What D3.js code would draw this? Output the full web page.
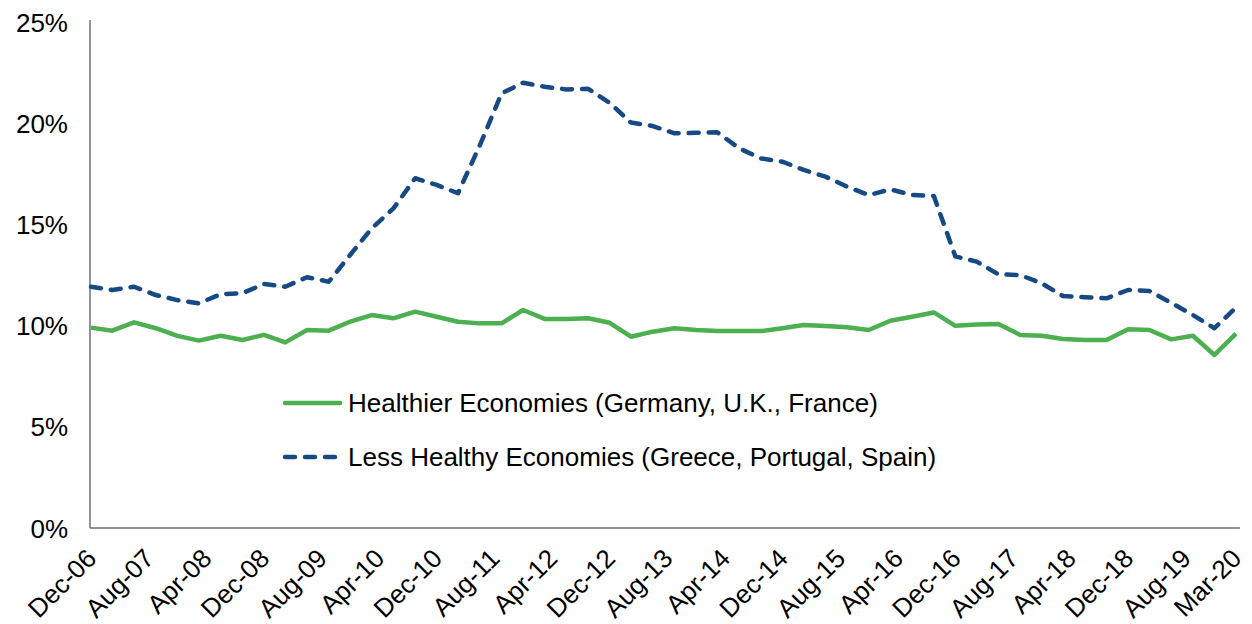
<!DOCTYPE html>
<html>
<head>
<meta charset="utf-8">
<script src="https://cdn.jsdelivr.net/npm/d3@7"></script>
<style>
    body { margin: 0; background: #fff; }
    #chart text { font-family: Arial, "Liberation Sans", sans-serif; fill: #000; }
</style>
</head>
<body>
<div id="chart"></div>
<script>
// quarterly dates, Dec-06 .. Mar-20
var quarters = ["Dec-06", "Mar-07", "Jun-07", "Sep-07", "Dec-07", "Mar-08", "Jun-08", "Sep-08",
    "Dec-08", "Mar-09", "Jun-09", "Sep-09", "Dec-09", "Mar-10", "Jun-10", "Sep-10",
    "Dec-10", "Mar-11", "Jun-11", "Sep-11", "Dec-11", "Mar-12", "Jun-12", "Sep-12",
    "Dec-12", "Mar-13", "Jun-13", "Sep-13", "Dec-13", "Mar-14", "Jun-14", "Sep-14",
    "Dec-14", "Mar-15", "Jun-15", "Sep-15", "Dec-15", "Mar-16", "Jun-16", "Sep-16",
    "Dec-16", "Mar-17", "Jun-17", "Sep-17", "Dec-17", "Mar-18", "Jun-18", "Sep-18",
    "Dec-18", "Mar-19", "Jun-19", "Sep-19", "Dec-19", "Mar-20"];

var healthier = [9.90, 9.75, 10.16, 9.87, 9.49, 9.26, 9.50, 9.29,
    9.54, 9.17, 9.78, 9.75, 10.20, 10.52, 10.36, 10.69,
    10.44, 10.19, 10.11, 10.11, 10.77, 10.33, 10.33, 10.36,
    10.14, 9.45, 9.70, 9.87, 9.78, 9.73, 9.73, 9.73,
    9.87, 10.03, 9.98, 9.92, 9.78, 10.24, 10.44, 10.65,
    9.99, 10.05, 10.08, 9.54, 9.50, 9.34, 9.29, 9.29,
    9.82, 9.78, 9.32, 9.50, 8.55, 9.60];

var lessHealthy = [11.92, 11.76, 11.92, 11.51, 11.26, 11.10, 11.55, 11.60,
    12.06, 11.92, 12.39, 12.17, 13.50, 14.80, 15.79, 17.28,
    16.95, 16.54, 18.90, 21.47, 22.00, 21.80, 21.67, 21.70,
    21.00, 20.03, 19.86, 19.50, 19.53, 19.55, 18.76, 18.26,
    18.10, 17.69, 17.36, 16.86, 16.45, 16.73, 16.45, 16.40,
    13.42, 13.16, 12.53, 12.50, 12.09, 11.46, 11.40, 11.35,
    11.76, 11.71, 11.13, 10.52, 9.87, 10.90];

var xTickLabels = ["Dec-06", "Aug-07", "Apr-08", "Dec-08", "Aug-09", "Apr-10", "Dec-10",
    "Aug-11", "Apr-12", "Dec-12", "Aug-13", "Apr-14", "Dec-14", "Aug-15", "Apr-16",
    "Dec-16", "Aug-17", "Apr-18", "Dec-18", "Aug-19", "Mar-20"];

var yTicks = [0, 5, 10, 15, 20, 25];

var seriesNames = ["Healthier Economies (Germany, U.K., France)",
    "Less Healthy Economies (Greece, Portugal, Spain)"];

var width = 1252;
var height = 624;
var fontSize = "26px";
var parseDate = d3.timeParse("%b-%y");

function drawChart() {
    var svg = d3.select("#chart").append("svg")
        .attr("width", width)
        .attr("height", height);

    var dates = quarters.map(parseDate);

    var x = d3.scaleTime()
        .domain([dates[0], dates[dates.length - 1]])
        .range([91, 1236]);

    var y = d3.scaleLinear()
        .domain([0, 25])
        .range([528, 22]);

    // y axis (labels only, line drawn below)
    var yAxis = d3.axisLeft(y)
        .tickValues(yTicks)
        .tickSize(0)
        .tickPadding(22)
        .tickFormat(function (d) { return d + "%"; });

    var gy = svg.append("g")
        .attr("transform", "translate(90,0)")
        .call(yAxis);
    gy.select(".domain").remove();
    gy.selectAll("text")
        .style("font-size", fontSize)
        .attr("dy", "0.35em");

    // axis lines
    svg.append("line")
        .attr("x1", 90).attr("x2", 90)
        .attr("y1", 20).attr("y2", 528)
        .attr("stroke", "#66717c").attr("stroke-width", 1.5);
    svg.append("line")
        .attr("x1", 90).attr("x2", 1240)
        .attr("y1", 528).attr("y2", 528)
        .attr("stroke", "#66717c").attr("stroke-width", 1.5);

    // x tick labels, rotated
    svg.selectAll(".xlab")
        .data(xTickLabels)
        .enter()
        .append("text")
        .attr("class", "xlab")
        .attr("text-anchor", "end")
        .style("font-size", fontSize)
        .attr("transform", function (d) {
            return "translate(" + (x(parseDate(d)) + 7) + ",560) rotate(-45)";
        })
        .text(function (d) { return d; });

    var line = d3.line()
        .x(function (d, i) { return x(dates[i]); })
        .y(function (d) { return y(d); });

    svg.append("path")
        .datum(healthier)
        .attr("d", line)
        .attr("fill", "none")
        .attr("stroke", "#4caf50")
        .attr("stroke-width", 4.5)
        .attr("stroke-linejoin", "round");

    svg.append("path")
        .datum(lessHealthy)
        .attr("d", line)
        .attr("fill", "none")
        .attr("stroke", "#174a84")
        .attr("stroke-width", 4.5)
        .attr("stroke-dasharray", "10,10")
        .attr("stroke-linecap", "round")
        .attr("stroke-linejoin", "round");

    // legend
    var legend = svg.append("g");
    var legendRows = [
        {name: seriesNames[0], color: "#4caf50", dash: null, y: 403},
        {name: seriesNames[1], color: "#174a84", dash: "10,10", y: 457}
    ];
    legendRows.forEach(function (r) {
        legend.append("line")
            .attr("x1", 285).attr("x2", 340)
            .attr("y1", r.y).attr("y2", r.y)
            .attr("stroke", r.color)
            .attr("stroke-width", 4.5)
            .attr("stroke-linecap", "round")
            .attr("stroke-dasharray", r.dash);
        legend.append("text")
            .attr("x", 348)
            .attr("y", r.y)
            .attr("dy", "0.35em")
            .style("font-size", fontSize)
            .text(r.name);
    });
}

drawChart();
</script>
</body>
</html>
